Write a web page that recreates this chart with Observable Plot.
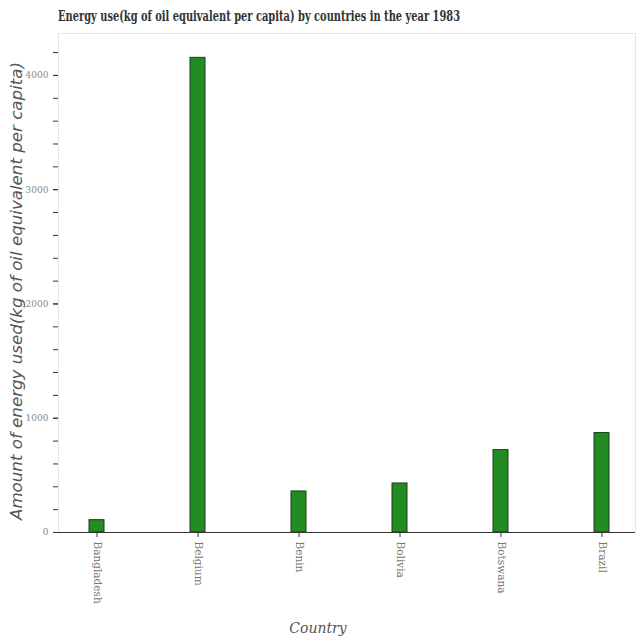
<!DOCTYPE html>
<html>
<head>
<meta charset="utf-8">
<script src="https://cdn.jsdelivr.net/npm/d3@7"></script>
<script src="https://cdn.jsdelivr.net/npm/@observablehq/plot@0.6"></script>
<style>
  html, body { margin: 0; padding: 0; background: #fff; }
  #wrap { width: 640px; height: 640px; position: relative; overflow: hidden; }
  #title { position: absolute; left: 58px; top: 6px; font-family: "DejaVu Serif", serif; font-weight: bold; font-size: 14.5px; line-height: 20px; color: #333; white-space: nowrap; transform-origin: 0 0; }
  #chart { position: absolute; left: 0; top: 28px; }
</style>
</head>
<body>
<div id="wrap">
  <div id="title">Energy use(kg of oil equivalent per capita) by countries in the year 1983</div>
  <div id="chart"></div>
</div>
<script>
const countries = ["Bangladesh", "Belgium", "Benin", "Bolivia", "Botswana", "Brazil"];
const energyUse = [108, 4154, 359, 429, 721, 870];
const yTicks = [0, 1000, 2000, 3000, 4000];
const yMinorTicks = d3.range(0, 4400, 200);

const data = countries.map((c, i) => ({country: c, value: energyUse[i]}));

const chart = Plot.plot({
  width: 640,
  height: 612,
  marginTop: 5,
  marginBottom: 108,
  marginLeft: 58,
  marginRight: 5,
  style: {fontFamily: "DejaVu Serif, serif", fontSize: "10px", color: "#555"},
  x: {domain: countries, paddingInner: 0.85, paddingOuter: 0.28, align: 0.55, label: null},
  y: {domain: [0, 4367], label: null},
  marks: [
    Plot.frame({stroke: "#e6e6e6"}),
    Plot.barY(data, {x: "country", y: "value", fill: "#228b22", stroke: "#1a3d1a", strokeWidth: 1}),
    Plot.ruleY([0], {stroke: "#333"}),
    Plot.axisX({tickRotate: 90, tickSize: 5, tickPadding: 4, fill: "#777", stroke: "#333", textAnchor: "start", fontSize: 10.5, label: null}),
    Plot.axisY({ticks: yMinorTicks, tickSize: 5, tickFormat: () => "", stroke: "#333", label: null}),
    Plot.axisY({ticks: yTicks, tickSize: 5, tickPadding: 5, tickFormat: d3.format("d"), fill: "#888", stroke: "#333", fontSize: 9, label: null}),
    Plot.ruleX([0], {frameAnchor: "left", stroke: "#333"})
  ]
});
document.getElementById("chart").appendChild(chart);

const title = document.getElementById("title");
const tw = title.getBoundingClientRect().width;
title.style.transform = `scaleX(${402 / tw})`;

const svg = d3.select(chart);
svg.append("text")
  .attr("x", 318).attr("y", 605)
  .attr("text-anchor", "middle")
  .style("font-family", "DejaVu Serif, serif")
  .style("font-style", "italic")
  .style("font-size", "14px")
  .attr("fill", "#555")
  .text("Country");
svg.append("text")
  .attr("transform", "translate(22,263) rotate(-90)")
  .attr("text-anchor", "middle")
  .attr("textLength", 458)
  .attr("lengthAdjust", "spacingAndGlyphs")
  .style("font-family", "DejaVu Sans, sans-serif")
  .style("font-style", "italic")
  .style("font-size", "16px")
  .attr("fill", "#555")
  .text("Amount of energy used(kg of oil equivalent per capita)");
</script>
</body>
</html>
